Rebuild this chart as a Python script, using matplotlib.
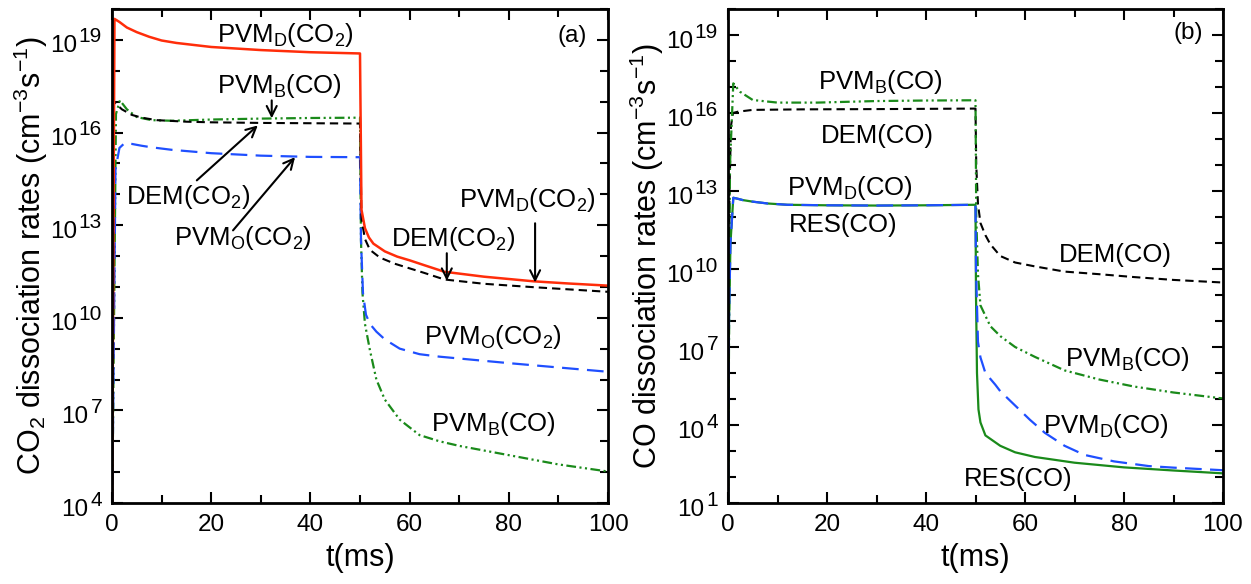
import numpy as np
import matplotlib.pyplot as plt

plt.rcParams['font.family'] = ['Liberation Sans', 'DejaVu Sans']
plt.rcParams['mathtext.fontset'] = 'custom'
plt.rcParams['mathtext.rm'] = 'Liberation Sans'
plt.rcParams['mathtext.it'] = 'Liberation Sans:italic'
plt.rcParams['mathtext.bf'] = 'Liberation Sans:bold'
plt.rcParams['lines.scale_dashes'] = False

RED = '#ff2d0a'
BLUE = '#1f4fff'
GREEN = '#1a8a1a'

# ---- (a) CO2 dissociation rates, values are log10(rate)
t_pvmd_a = [0, 0.5, 1.5, 3, 5, 7.5, 10, 13, 20, 30, 40, 50, 50.3, 51, 51.8, 52.7,
            55, 57.5, 60, 63, 67, 75, 85, 92, 100]
lg_pvmd_a = [3, 19.68, 19.58, 19.4, 19.25, 19.1, 18.98, 18.9, 18.77, 18.67, 18.6, 18.56,
             13.5, 12.9, 12.6, 12.4, 12.15, 11.98, 11.86, 11.7, 11.49, 11.33, 11.18, 11.11, 11.04]

t_dem_a = [0, 0.4, 1, 2, 4, 6, 9, 15, 20, 30, 40, 50, 50.3, 51, 52, 54, 57, 60, 63, 67,
           75, 85, 92, 100]
lg_dem_a = [3, 17.0, 16.9, 16.75, 16.57, 16.48, 16.4, 16.35, 16.33, 16.31, 16.3, 16.29,
            13.2, 12.55, 12.2, 11.95, 11.75, 11.6, 11.45, 11.24, 11.1, 10.99, 10.92, 10.84]

t_pvmb_a = [0, 0.8, 1.6, 3, 5, 8, 12, 20, 30, 40, 50, 50.2, 50.5, 51, 52, 53.3, 55, 58,
            62, 66, 70, 80, 90, 100]
lg_pvmb_a = [3, 16.6, 17.04, 16.75, 16.5, 16.4, 16.38, 16.42, 16.45, 16.47, 16.48, 12.5,
             10.8, 9.8, 8.95, 8.0, 7.35, 6.7, 6.2, 6.0, 5.85, 5.55, 5.25, 5.02]

t_pvmo_a = [0, 0.7, 1.5, 2.5, 4, 6, 8, 12, 20, 30, 40, 50, 50.2, 50.6, 51.2, 52, 53.3,
            55, 58, 62, 66, 70, 80, 90, 100]
lg_pvmo_a = [3, 14.8, 15.5, 15.65, 15.63, 15.57, 15.52, 15.44, 15.33, 15.25, 15.21, 15.2,
             12.5, 10.8, 10.1, 9.8, 9.55, 9.3, 9.0, 8.82, 8.74, 8.68, 8.53, 8.39, 8.25]

# ---- (b) CO dissociation rates, log10(rate)
t_pvmb_b = [0, 0.4, 1.07, 2.4, 5, 10, 18, 30, 40, 50, 50.15, 50.5, 51, 53, 55, 58, 62,
            68, 75, 82, 90, 100]
lg_pvmb_b = [0, 14.0, 17.14, 16.82, 16.5, 16.4, 16.4, 16.46, 16.48, 16.49, 12.0, 9.8,
             8.6, 7.8, 7.42, 7.0, 6.62, 6.1, 5.75, 5.48, 5.25, 5.02]

t_dem_b = [0, 0.3, 0.6, 1, 2, 5, 15, 30, 50, 50.15, 50.5, 51, 52, 53, 55, 58, 62, 68,
           75, 82, 90, 100]
lg_dem_b = [0, 13.0, 15.5, 16.0, 16.05, 16.12, 16.14, 16.15, 16.17, 14.0, 12.5, 11.77,
            11.3, 10.95, 10.5, 10.25, 10.1, 9.9, 9.8, 9.69, 9.58, 9.48]

t_pvmd_b = [0, 0.2, 0.5, 1.07, 2, 3, 5, 8, 12, 20, 30, 40, 50, 50.1, 50.5, 51, 52, 54,
            55, 58, 61, 64, 68, 72, 78, 85, 90, 100]
lg_pvmd_b = [0, 8.0, 11.0, 12.74, 12.7, 12.65, 12.59, 12.52, 12.47, 12.45, 12.44, 12.45,
             12.47, 10.0, 7.2, 6.6, 6.0, 5.55, 5.3, 4.75, 4.2, 3.7, 3.2, 2.85, 2.6,
             2.42, 2.36, 2.26]

t_res_b = [0, 0.2, 0.5, 1.07, 2, 3, 5, 8, 12, 20, 30, 40, 50, 50.1, 50.3, 50.6, 51, 52,
           55, 58, 62, 70, 80, 90, 100]
lg_res_b = [0, 8.0, 11.0, 12.74, 12.7, 12.65, 12.59, 12.52, 12.47, 12.45, 12.44, 12.45,
            12.47, 9.0, 6.0, 4.6, 4.1, 3.6, 3.2, 2.95, 2.77, 2.55, 2.37, 2.25, 2.14]

DASH = (0, (6, 3.6))
LONGDASH = (0, (12, 6))
DASHDOTDOT = (0, (7, 2.5, 1.5, 2.5, 1.5, 2.5))

TICK_FS = 17.5
EXP_FS = 15


def p(v):
    return 10.0 ** np.array(v)


def decade_labels(ax, exps):
    # "10" with a raised exponent, the whole label centred on the tick
    for e in exps:
        s = str(e)
        xy = (0, 10.0 ** e)
        ax.annotate(s, xy=xy, xycoords=('axes fraction', 'data'),
                    xytext=(-7.2, -1.8), textcoords='offset points',
                    ha='right', va='baseline', fontsize=EXP_FS, annotation_clip=False)
        ax.annotate('10', xy=xy, xycoords=('axes fraction', 'data'),
                    xytext=(-8.6 - len(s) * 0.556 * EXP_FS, -9.0),
                    textcoords='offset points',
                    ha='right', va='baseline', fontsize=TICK_FS, annotation_clip=False)


fig = plt.figure(figsize=(12.51, 5.84), dpi=100)
W, H = 1251.0, 584.0
ax1 = fig.add_axes([112 / W, (H - 503) / H, 496 / W, 494 / H])
ax2 = fig.add_axes([728 / W, (H - 503) / H, 495 / W, 494 / H])

ax1.plot(t_pvmb_a, p(lg_pvmb_a), color=GREEN, lw=1.6, ls=DASHDOTDOT)
ax1.plot(t_pvmo_a, p(lg_pvmo_a), color=BLUE, lw=1.6, ls=LONGDASH)
ax1.plot(t_dem_a, p(lg_dem_a), color='k', lw=1.5, ls=DASH)
ax1.plot(t_pvmd_a, p(lg_pvmd_a), color=RED, lw=1.8)

ax2.plot(t_dem_b, p(lg_dem_b), color='k', lw=1.5, ls=DASH)
ax2.plot(t_pvmb_b, p(lg_pvmb_b), color=GREEN, lw=1.6, ls=DASHDOTDOT)
ax2.plot(t_res_b, p(lg_res_b), color=GREEN, lw=1.6)
ax2.plot(t_pvmd_b, p(lg_pvmd_b), color=BLUE, lw=1.6, ls=LONGDASH)

for ax, lo in ((ax1, 4), (ax2, 1)):
    ax.set_yscale('log')
    ax.set_xlim(0, 100)
    ax.set_ylim(10.0 ** lo, 1e20)
    ax.set_xticks([0, 20, 40, 60, 80, 100])
    ax.set_xticks([10, 30, 50, 70, 90], minor=True)
    major = list(range(lo, 20, 3))
    ax.set_yticks([10.0 ** e for e in major])
    ax.set_yticks([10.0 ** e for e in range(lo, 21) if e not in major], minor=True)
    ax.yaxis.set_minor_formatter(plt.NullFormatter())
    ax.tick_params(which='both', direction='in', top=True, right=True, width=1.5,
                   labelsize=TICK_FS)
    ax.tick_params(which='major', length=8)
    ax.tick_params(which='minor', length=5.5)
    ax.tick_params(axis='x', pad=8)
    ax.tick_params(axis='y', labelleft=False)
    decade_labels(ax, major)
    for s in ax.spines.values():
        s.set_linewidth(2.0)
    ax.set_xlabel('t(ms)', fontsize=22, labelpad=5)

ax1.set_ylabel('CO$_2$ dissociation rates (cm$^{-3}$s$^{-1}$)', fontsize=22)
ax2.set_ylabel('CO dissociation rates (cm$^{-3}$s$^{-1}$)', fontsize=22)
ax1.yaxis.set_label_coords(-0.124, 0.5)
ax2.yaxis.set_label_coords(-0.126, 0.5)

FS = 18.5


def note(ax, x, lg, s):
    ax.text(x, 10.0 ** lg, s, ha='center', va='baseline', fontsize=FS)


def arrow(ax, x0, lg0, x1, lg1):
    ax.annotate('', xy=(x1, 10.0 ** lg1), xytext=(x0, 10.0 ** lg0),
                arrowprops=dict(arrowstyle='->', color='k', lw=1.5,
                                mutation_scale=18, shrinkA=0, shrinkB=0))


# labels, panel (a)
note(ax1, 34.9, 18.92, 'PVM$_{\\mathrm{D}}$(CO$_2$)')
note(ax1, 33.8, 17.27, 'PVM$_{\\mathrm{B}}$(CO)')
arrow(ax1, 32.2, 17.04, 32.2, 16.46)
note(ax1, 15.3, 13.68, 'DEM(CO$_2$)')
arrow(ax1, 17.1, 14.45, 29.4, 16.23)
note(ax1, 26.4, 12.35, 'PVM$_{\\mathrm{O}}$(CO$_2$)')
arrow(ax1, 24.4, 12.83, 36.9, 15.2)
note(ax1, 68.8, 12.33, 'DEM(CO$_2$)')
arrow(ax1, 67.5, 12.09, 67.5, 11.2)
note(ax1, 83.7, 13.6, 'PVM$_{\\mathrm{D}}$(CO$_2$)')
arrow(ax1, 85.3, 13.06, 85.3, 11.14)
note(ax1, 76.8, 9.15, 'PVM$_{\\mathrm{O}}$(CO$_2$)')
note(ax1, 76.9, 6.33, 'PVM$_{\\mathrm{B}}$(CO)')
ax1.text(92.7, 10.0 ** 19.14, '(a)', ha='center', va='center', fontsize=17.5)

# labels, panel (b)
note(ax2, 30.9, 16.92, 'PVM$_{\\mathrm{B}}$(CO)')
note(ax2, 30.2, 14.85, 'DEM(CO)')
note(ax2, 24.6, 12.85, 'PVM$_{\\mathrm{D}}$(CO)')
note(ax2, 23.3, 11.42, 'RES(CO)')
note(ax2, 78.2, 10.27, 'DEM(CO)')
note(ax2, 80.8, 6.27, 'PVM$_{\\mathrm{B}}$(CO)')
note(ax2, 76.4, 3.69, 'PVM$_{\\mathrm{D}}$(CO)')
note(ax2, 58.6, 1.65, 'RES(CO)')
ax2.text(92.9, 10.0 ** 19.08, '(b)', ha='center', va='center', fontsize=17.5)

fig.savefig('out.png', dpi=100)
